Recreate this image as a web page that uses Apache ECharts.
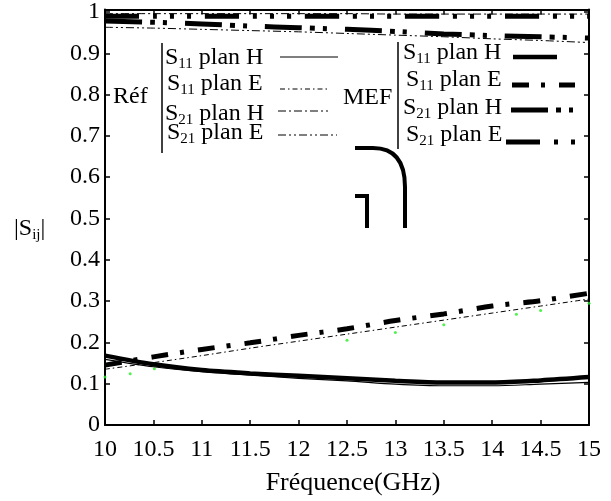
<!DOCTYPE html>
<html>
<head>
<meta charset="utf-8">
<script src="https://cdn.jsdelivr.net/npm/echarts@6/dist/echarts.min.js"></script>
<style>
  html, body { margin: 0; padding: 0; background: #fff; }
  #chart { width: 611px; height: 501px; }
</style>
</head>
<body>
<div id="chart"></div>
<script>
// abscisses communes (GHz)
const freq = [10, 10.5, 11, 11.5, 12, 12.5, 13, 13.5, 14, 14.5, 15]
const yTicks = [0, 0.1, 0.2, 0.3, 0.4, 0.5, 0.6, 0.7, 0.8, 0.9, 1]

// Réf
const refS11H = [0.159, 0.141, 0.129, 0.121, 0.113, 0.107, 0.099, 0.095, 0.095, 0.099, 0.103]
const refS11E = [0.135, 0.151, 0.168, 0.186, 0.203, 0.220, 0.237, 0.254, 0.271, 0.288, 0.305]
const refS21H = [0.996, 0.996, 0.996, 0.996, 0.996, 0.996, 0.995, 0.995, 0.995, 0.995, 0.995]
const refS21E = [0.963, 0.961, 0.958, 0.955, 0.952, 0.948, 0.944, 0.940, 0.935, 0.931, 0.926]

// MEF
const mefS11H = [0.168, 0.147, 0.133, 0.125, 0.119, 0.113, 0.107, 0.103, 0.103, 0.108, 0.116]
const mefS11E = [0.145, 0.165, 0.183, 0.199, 0.217, 0.233, 0.253, 0.269, 0.288, 0.301, 0.319]
const mefS21H = [0.978, 0.975, 0.971, 0.966, 0.962, 0.958, 0.953, 0.947, 0.943, 0.940, 0.937]
const mefS21E = [0.990, 0.990, 0.990, 0.990, 0.990, 0.990, 0.990, 0.990, 0.990, 0.990, 0.990]

// points verts
const dotsX = [10.0, 10.26, 10.51, 12.5, 13.0, 13.5, 14.25, 14.5, 15.0]
const dotsY = [0.116, 0.124, 0.136, 0.205, 0.224, 0.243, 0.268, 0.277, 0.295]

const FONT = 'Liberation Serif'
const pairs = (xs, ys) => xs.map((x, i) => [x, ys[i]])

// styles des courbes, réutilisés pour les échantillons de la légende
const curves = [
  { name: 'Réf S11 plan H', data: refS11H, width: 1.2, dash: 'solid', sub: '11', label: 'plan H' },
  { name: 'Réf S11 plan E', data: refS11E, width: 1, dash: [5, 3, 1.5, 3], sub: '11', label: 'plan E' },
  { name: 'Réf S21 plan H', data: refS21H, width: 1, dash: [8, 3, 2, 3], sub: '21', label: 'plan H' },
  { name: 'Réf S21 plan E', data: refS21E, width: 1, dash: [8, 3, 2, 3, 2, 3], sub: '21', label: 'plan E' },
  { name: 'MEF S11 plan H', data: mefS11H, width: 4.5, dash: 'solid', sub: '11', label: 'plan H' },
  { name: 'MEF S11 plan E', data: mefS11E, width: 5, dash: [17, 12, 4, 14], sub: '11', label: 'plan E' },
  { name: 'MEF S21 plan H', data: mefS21H, width: 5, dash: [37, 8, 5, 8, 4, 18], sub: '21', label: 'plan H' },
  { name: 'MEF S21 plan E', data: mefS21E, width: 5, dash: [34, 14, 4, 13, 4, 13, 4, 14], sub: '21', label: 'plan E' }
]

// légende dessinée à la main : position du texte et de l'échantillon
const legendPos = [
  { tx: 165, ty: 46, x1: 280, x2: 338, ly: 57 },
  { tx: 167, ty: 72, x1: 280, x2: 330, ly: 89 },
  { tx: 165, ty: 101.5, x1: 278, x2: 328, ly: 111 },
  { tx: 167, ty: 121, x1: 278, x2: 337, ly: 135 },
  { tx: 403, ty: 40.5, x1: 513, x2: 557, ly: 57 },
  { tx: 406, ty: 67.5, x1: 512, x2: 575, ly: 85 },
  { tx: 403, ty: 95.5, x1: 511, x2: 577, ly: 110 },
  { tx: 406, ty: 122.5, x1: 506, x2: 590, ly: 142 }
]

const rich = {
  m: { fontFamily: FONT, fontSize: 24, lineHeight: 25, verticalAlign: 'top', color: '#000' },
  s: { fontFamily: FONT, fontSize: 15, lineHeight: 16, verticalAlign: 'top', padding: [11, 0, 0, 0], color: '#000' }
}

const graphic = []
curves.forEach((c, i) => {
  const p = legendPos[i]
  graphic.push({
    type: 'text', x: p.tx, y: p.ty,
    style: { text: `{m|S}{s|${c.sub}}{m| ${c.label}}`, rich, verticalAlign: 'top' }
  })
  graphic.push({
    type: 'line', shape: { x1: p.x1, y1: p.ly, x2: p.x2, y2: p.ly },
    style: { stroke: '#000', lineWidth: c.width, lineDash: c.dash === 'solid' ? null : c.dash }
  })
})
graphic.push(
  { type: 'text', x: 113, y: 97, style: { text: 'Réf', font: `24px "${FONT}"`, fill: '#000', verticalAlign: 'middle' } },
  { type: 'text', x: 343, y: 98, style: { text: 'MEF', font: `24px "${FONT}"`, fill: '#000', verticalAlign: 'middle' } },
  { type: 'line', shape: { x1: 162, y1: 43, x2: 162, y2: 153 }, style: { stroke: '#000', lineWidth: 1.5 } },
  { type: 'line', shape: { x1: 398, y1: 42, x2: 398, y2: 149 }, style: { stroke: '#000', lineWidth: 1.5 } },
  // nom de l'axe y
  { type: 'text', x: 14, y: 217, style: { text: '{m||S}{s|ij}{m||}', rich, verticalAlign: 'top' } },
  // traits parasites de la figure d'origine
  { type: 'polyline', shape: { points: [[355, 148], [373, 148]] }, style: { stroke: '#000', lineWidth: 4, fill: null } },
  { type: 'bezierCurve', shape: { x1: 373, y1: 148, cpx1: 405, cpy1: 148, x2: 405, y2: 187 }, style: { stroke: '#000', lineWidth: 4, fill: null } },
  { type: 'polyline', shape: { points: [[405, 187], [405, 228]] }, style: { stroke: '#000', lineWidth: 4, fill: null } },
  { type: 'polyline', shape: { points: [[355, 196], [367, 196], [367, 228]] }, style: { stroke: '#000', lineWidth: 4, fill: null } }
)

const axisLine = { show: true, onZero: false, lineStyle: { color: '#000', width: 2 } }
const axisTick = { show: true, inside: true, length: 5, lineStyle: { color: '#000', width: 1.5 } }
const labelStyle = { color: '#000', fontFamily: FONT, fontSize: 24 }

const series = curves.map(c => ({
  name: c.name,
  type: 'line',
  data: pairs(freq, c.data),
  smooth: 0.3,
  symbol: 'none',
  lineStyle: { color: '#000', width: c.width, type: c.dash }
}))
series.push({
  name: 'points',
  type: 'scatter',
  data: pairs(dotsX, dotsY),
  symbolSize: 3,
  itemStyle: { color: '#22ee22' }
})

const option = {
  animation: false,
  backgroundColor: '#fff',
  grid: { left: 105, right: 22, top: 6, bottom: 76 },
  xAxis: [
    {
      type: 'value', min: 10, max: 15, interval: 0.5,
      name: 'Fréquence(GHz)', nameLocation: 'middle', nameGap: 45,
      nameTextStyle: { color: '#000', fontFamily: FONT, fontSize: 26, padding: [0, 0, 0, 12] },
      axisLine, axisTick, splitLine: { show: false },
      axisLabel: { ...labelStyle, margin: 13 }
    },
    {
      type: 'value', position: 'top', min: 10, max: 15, interval: 0.5,
      axisLine, axisTick, splitLine: { show: false }, axisLabel: { show: false }
    }
  ],
  yAxis: [
    {
      type: 'value', min: 0, max: 1.006, interval: 0.1,
      axisLine, axisTick, splitLine: { show: false },
      axisLabel: {
        ...labelStyle, margin: 5,
        formatter: v => {
          const t = yTicks.find(k => Math.abs(k - v) < 1e-6)
          return t === undefined ? '' : String(t)
        }
      }
    },
    {
      type: 'value', position: 'right', min: 0, max: 1.006, interval: 0.1,
      axisLine, axisTick, splitLine: { show: false }, axisLabel: { show: false }
    }
  ],
  graphic,
  series
}

const chart = echarts.init(document.getElementById('chart'))
chart.setOption(option)
</script>
</body>
</html>
